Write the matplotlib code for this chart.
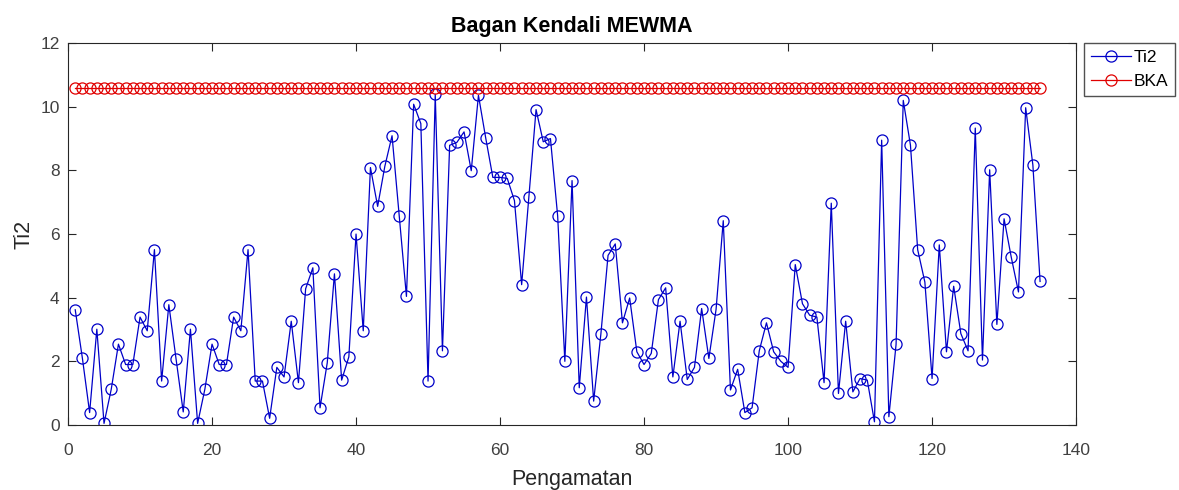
import numpy as np
import matplotlib
matplotlib.use("Agg")
import matplotlib.pyplot as plt

plt.rcParams['font.family'] = ['Liberation Sans', 'DejaVu Sans']

# nilai Ti2 hasil pengamatan
ti2 = [3.62, 2.09, 0.39, 3.01, 0.05, 1.12, 2.54, 1.90, 1.90, 3.39,
       2.96, 5.51, 1.38, 3.78, 2.08, 0.41, 3.01, 0.05, 1.12, 2.54,
       1.90, 1.90, 3.39, 2.96, 5.51, 1.38, 1.38, 0.21, 1.81, 1.51,
       3.26, 1.33, 4.28, 4.94, 0.54, 1.95, 4.75, 1.41, 2.14, 6.00,
       2.96, 8.09, 6.87, 8.13, 9.09, 6.57, 4.04, 10.08, 9.47, 1.38,
       10.39, 2.33, 8.79, 8.88, 9.21, 7.99, 10.36, 9.03, 7.78, 7.78,
       7.75, 7.05, 4.41, 7.17, 9.91, 8.90, 9.00, 6.57, 2.00, 7.68,
       1.17, 4.02, 0.75, 2.85, 5.33, 5.69, 3.21, 3.99, 2.30, 1.90,
       2.25, 3.94, 4.31, 1.51, 3.26, 1.43, 1.81, 3.66, 2.09, 3.63,
       6.42, 1.10, 1.75, 0.39, 0.54, 2.33, 3.21, 2.30, 2.00, 1.81,
       5.04, 3.81, 3.45, 3.39, 1.33, 6.97, 0.99, 3.26, 1.04, 1.46,
       1.41, 0.10, 8.95, 0.26, 2.53, 10.20, 8.79, 5.51, 4.49, 1.46,
       5.66, 2.30, 4.36, 2.87, 2.33, 9.33, 2.04, 8.02, 3.16, 6.48,
       5.27, 4.18, 9.97, 8.17, 4.51]
bka_value = 10.58  # batas kendali atas

n = np.arange(1, len(ti2) + 1)
bka = [bka_value] * len(ti2)

fig = plt.figure(figsize=(11.79, 4.90), dpi=100)
ax = fig.add_axes([0.0577, 0.1327, 0.855, 0.7793])

ax.plot(n, ti2, '-o', color='#0000c8', linewidth=0.9, markersize=8,
        markerfacecolor='none', markeredgewidth=0.9, label='Ti2')
ax.plot(n, bka, '-o', color='#e00000', linewidth=0.9, markersize=8,
        markerfacecolor='none', markeredgewidth=0.9, label='BKA')

ax.set_xlim(0, 140)
ax.set_ylim(0, 12)
ax.set_xticks(range(0, 141, 20))
ax.set_yticks(range(0, 13, 2))
ax.tick_params(direction='in', top=True, right=True, labelsize=12.5,
               length=6, width=0.8, colors='#262626', labelcolor='#404040')
ax.tick_params(axis='x', pad=13)
ax.tick_params(axis='y', pad=6)
for s in ax.spines.values():
    s.set_linewidth(0.8)
    s.set_color('#262626')

ax.set_title('Bagan Kendali MEWMA', fontsize=15.5, fontweight='bold', pad=8)
ax.set_xlabel('Pengamatan', fontsize=15.5, labelpad=8, color='#262626')
ax.set_ylabel('Ti2', fontsize=15.5, labelpad=4, color='#262626')

ax.legend(loc='upper left', bbox_to_anchor=(1.008, 1.0), fontsize=12.5,
          frameon=True, fancybox=False, edgecolor='#262626',
          handlelength=2.3, borderpad=0.4, labelspacing=0.5,
          handletextpad=0.15, borderaxespad=0)

fig.savefig('out.png', dpi=100)
